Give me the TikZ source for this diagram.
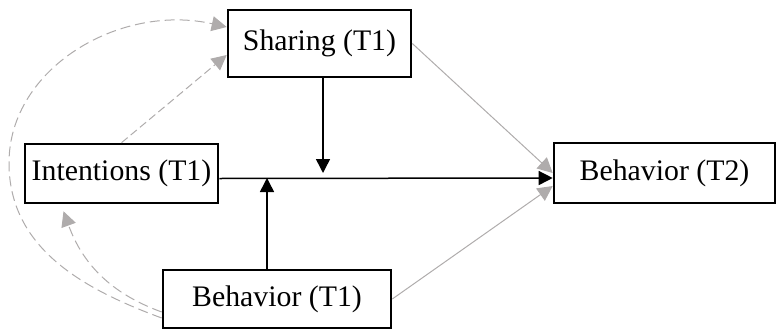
\documentclass[tikz,border=0pt]{standalone}
\usepackage{fontspec}
\setmainfont{Liberation Serif}
\usepackage{tikz}
\usetikzlibrary{arrows.meta, calc}
\definecolor{pathgray}{RGB}{175, 172, 172}

\begin{document}
\begin{tikzpicture}[x=0.5pt, y=0.5pt, >=Stealth,
    box/.style={draw, line width=1.3pt, inner sep=0pt, font=\fontsize{14.9}{17}\selectfont},
    blackarr/.style={-{Triangle[length=7pt, width=7pt]}, line width=0.75pt},
    grayarr/.style={-{Triangle[length=7.5pt, width=7.5pt]}, pathgray, line width=0.5pt},
    dasharr/.style={grayarr, dash pattern=on 5pt off 2.5pt}]

  \useasboundingbox (0,0) rectangle (776,328);

  % Variables
  \node[box, minimum width=91.5pt, minimum height=33.5pt] (share) at (319.5, 284.5) {Sharing (T1)};
  \node[box, minimum width=96.5pt, minimum height=29.5pt] (intent) at (121.5, 154.5) {Intentions (T1)};
  \node[box, minimum width=114pt, minimum height=29pt] (beh1) at (277, 29) {Behavior (T1)};
  \node[box, minimum width=110.5pt, minimum height=30pt] (beh2) at (664.5, 155) {Behavior (T2)};

  % Points on the main path where the moderators hit it
  \coordinate (m1) at (323, 155);
  \coordinate (m2) at (267, 150);

  % Main path and moderators
  \draw[blackarr] ([yshift=-2.5pt]intent.east) -- ([yshift=-2.5pt]beh2.west);
  \draw[blackarr] (share.south -| m1) -- (m1);
  \draw[blackarr] (beh1.north -| m2) -- (m2);

  % Direct paths to T2
  \draw[grayarr] (share.east) -- (beh2.west);
  \draw[grayarr] (beh1.east) -- ([yshift=-6.5pt]beh2.west);

  % Correlations at T1
  \draw[dasharr, dash pattern=on 4pt off 2pt] (intent.north) -- ([yshift=-5.75pt]share.west);
  \draw[dasharr] ([yshift=-6.5pt]beh1.west) to[out=160, in=-70] ([xshift=-29pt, yshift=-3.5pt]intent.south);
  \draw[dasharr] ([yshift=-9.5pt]beh1.west)
    .. controls (83, 39) and (9, 80) .. (9, 165)
    .. controls (9, 260) and (120, 325) .. ([yshift=8.25pt]share.west);
\end{tikzpicture}
\end{document}
